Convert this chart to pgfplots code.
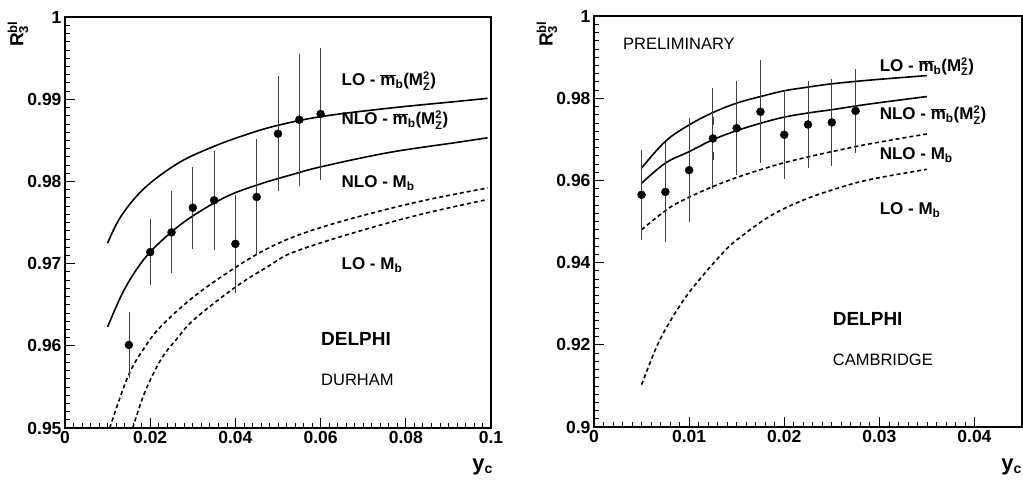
\documentclass[border=0pt]{standalone}
\usepackage{fontspec}
\setmainfont{Liberation Sans}
\usepackage{pgfplots}
\pgfplotsset{compat=1.18}

\newcommand{\fs}[1]{\fontsize{#1}{#1}\selectfont}
\newcommand{\mb}{$\overline{\hbox{m}}$\textsubscript{b}}
\newcommand{\MZ}{M$^{\hbox{\fs{11}2}}_{\hbox{\fs{11}Z}}$}
\newcommand{\Mb}{M\textsubscript{b}}

\pgfplotsset{
  myax/.style={
    scale only axis, anchor=south west,
    axis line style={line width=1.1pt},
    tick align=inside, xtick pos=bottom, ytick pos=left,
    major tick length=10pt, minor tick length=5pt, minor tick num=9,
    tick style={black, line width=0.7pt},
    ticklabel style={font=\bfseries\fs{17.5}},
    scaled ticks=false,
    clip=true,
  },
}
\tikzset{lbl/.style={anchor=base west, font=\bfseries\fs{17}, inner sep=0pt}}

\begin{document}
\begin{tikzpicture}
\useasboundingbox (0,0) rectangle (1023pt,485pt);

% ---------------- left: DURHAM ----------------
\begin{axis}[myax, at={(65pt,57pt)}, width=426pt, height=411pt,
  xmin=0, xmax=0.1, ymin=0.95, ymax=1,
  xtick={0,0.02,0.04,0.06,0.08,0.1},
  xticklabels={0,0.02,0.04,0.06,0.08,0.1},
  ytick={0.95,0.96,0.97,0.98,0.99,1},
  yticklabels={0.95,0.96,0.97,0.98,0.99,1}]

\addplot[black, line width=1.6pt, mark=none, smooth, tension=0.6] coordinates {
 (0.0100,0.9725) (0.0132,0.9758) (0.0187,0.9792) (0.0265,0.9822)
 (0.0342,0.9841) (0.0420,0.9856) (0.0498,0.9868) (0.0603,0.9879)
 (0.0759,0.9889) (0.0914,0.9897) (0.0992,0.9901)};
\addplot[black, line width=1.6pt, mark=none, smooth, tension=0.6] coordinates {
 (0.0100,0.9623) (0.0132,0.9661) (0.0163,0.9689) (0.0198,0.9713)
 (0.0249,0.9738) (0.0303,0.9759) (0.0381,0.9782) (0.0459,0.9797)
 (0.0531,0.9808) (0.0603,0.9818) (0.0759,0.9835) (0.0914,0.9847)
 (0.0992,0.9853)};
\addplot[black, line width=1.6pt, mark=none, smooth, tension=0.6, dash pattern=on 4pt off 3pt] coordinates {
 (0.0105,0.9500) (0.0148,0.9563) (0.0187,0.9598) (0.0226,0.9624)
 (0.0303,0.9660) (0.0399,0.9695) (0.0478,0.9719) (0.0560,0.9737)
 (0.0681,0.9756) (0.0836,0.9776) (0.0992,0.9792)};
\addplot[black, line width=1.6pt, mark=none, smooth, tension=0.6, dash pattern=on 4pt off 3pt] coordinates {
 (0.0159,0.9500) (0.0187,0.9543) (0.0226,0.9584) (0.0265,0.9610)
 (0.0303,0.9632) (0.0399,0.9671) (0.0478,0.9697) (0.0537,0.9714)
 (0.0681,0.9738) (0.0836,0.9760) (0.0992,0.9778)};

\addplot[only marks, mark=*, mark size=4pt, black,
  error bars/.cd, y dir=both, y explicit, error mark=none,
  error bar style={line width=0.8pt, black!75}]
  table[x=x, y=y, y error=e] {
x y e
0.015 0.9601 0.0040
0.020 0.9714 0.0040
0.025 0.9738 0.0050
0.030 0.9768 0.0050
0.035 0.9777 0.0060
0.040 0.9724 0.0060
0.045 0.9781 0.0070
0.050 0.9858 0.0070
0.055 0.9875 0.0080
0.060 0.9882 0.0080
};

\node[lbl] at (axis cs:0.0649,0.99163) {LO - \mb(\MZ)};
\node[lbl] at (axis cs:0.0649,0.98689) {NLO - \mb(\MZ)};
\node[lbl] at (axis cs:0.0649,0.97925) {NLO - \Mb};
\node[lbl] at (axis cs:0.0649,0.96930) {LO - \Mb};
\node[anchor=base west, font=\bfseries\fs{19}, inner sep=0pt] at (axis cs:0.0601,0.9600) {DELPHI};
\node[anchor=base west, font=\fs{16.5}, inner sep=0pt] at (axis cs:0.0601,0.95513) {DURHAM};
\end{axis}

% ---------------- right: CAMBRIDGE ----------------
\begin{axis}[myax, at={(594pt,58pt)}, width=428pt, height=411pt,
  xmin=0, xmax=0.045, ymin=0.9, ymax=1,
  xtick={0,0.01,0.02,0.03,0.04},
  xticklabels={0,0.01,0.02,0.03,0.04},
  ytick={0.9,0.92,0.94,0.96,0.98,1},
  yticklabels={0.9,0.92,0.94,0.96,0.98,1}]

\addplot[black, line width=1.6pt, mark=none, smooth, tension=0.6] coordinates {
 (0.0050,0.9630) (0.0075,0.9695) (0.0100,0.9735) (0.0125,0.9765)
 (0.0150,0.9788) (0.0175,0.9804) (0.0200,0.9818) (0.0225,0.9827)
 (0.0250,0.9835) (0.0290,0.9844) (0.0350,0.9855)};
\addplot[black, line width=1.6pt, mark=none, smooth, tension=0.6] coordinates {
 (0.0050,0.9593) (0.0075,0.9642) (0.0100,0.9670) (0.0125,0.9699)
 (0.0150,0.9721) (0.0175,0.9739) (0.0200,0.9754) (0.0225,0.9764)
 (0.0250,0.9772) (0.0290,0.9786) (0.0350,0.9804)};
\addplot[black, line width=1.6pt, mark=none, smooth, tension=0.6, dash pattern=on 4pt off 3pt] coordinates {
 (0.0050,0.9480) (0.0079,0.9533) (0.0100,0.9559) (0.0125,0.9585)
 (0.0150,0.9607) (0.0175,0.9626) (0.0200,0.9643) (0.0225,0.9657)
 (0.0250,0.9670) (0.0290,0.9689) (0.0350,0.9713)};
\addplot[black, line width=1.6pt, mark=none, smooth, tension=0.6, dash pattern=on 4pt off 3pt] coordinates {
 (0.0050,0.9103) (0.0066,0.9196) (0.0080,0.9257) (0.0097,0.9318)
 (0.0115,0.9370) (0.0136,0.9425) (0.0150,0.9455) (0.0185,0.9513)
 (0.0220,0.9552) (0.0255,0.9580) (0.0290,0.9602) (0.0350,0.9627)};

% total errors
\addplot[only marks, mark=none, black,
  error bars/.cd, y dir=both, y explicit, error mark=none,
  error bar style={line width=0.8pt, black!75}]
  table[x=x, y=y, y error=e] {
x y e
0.0050 0.9565 0.0110
0.0075 0.9572 0.0122
0.0100 0.9625 0.0127
0.0125 0.9702 0.0124
0.0150 0.9727 0.0115
0.0175 0.9767 0.0125
0.0200 0.9711 0.0108
0.0225 0.9736 0.0106
0.0250 0.9741 0.0105
0.0275 0.9769 0.0102
};
% statistical errors
\addplot[only marks, mark=*, mark size=4pt, black,
  error bars/.cd, y dir=both, y explicit, error mark=-,
  error mark options={black!75, mark size=4pt, line width=0.7pt},
  error bar style={line width=0.8pt, black!75}]
  table[x=x, y=y, y error=e] {
x y e
0.0050 0.9565 0.0033
0.0075 0.9572 0.0037
0.0100 0.9625 0.0040
0.0125 0.9702 0.0043
0.0150 0.9727 0.0047
0.0175 0.9767 0.0052
0.0200 0.9711 0.0054
0.0225 0.9736 0.0058
0.0250 0.9741 0.0062
0.0275 0.9769 0.0065
};

\node[lbl] at (axis cs:0.03003,0.98647) {LO - \mb(\MZ)};
\node[lbl] at (axis cs:0.03003,0.97473) {NLO - \mb(\MZ)};
\node[lbl] at (axis cs:0.03003,0.96500) {NLO - \Mb};
\node[lbl] at (axis cs:0.03003,0.95164) {LO - \Mb};
\node[anchor=base west, font=\fs{16.5}, inner sep=0pt] at (axis cs:0.00304,0.99174) {PRELIMINARY};
\node[anchor=base west, font=\bfseries\fs{19}, inner sep=0pt] at (axis cs:0.02509,0.92467) {DELPHI};
\node[anchor=base west, font=\fs{16.5}, inner sep=0pt] at (axis cs:0.02509,0.91495) {CAMBRIDGE};
\end{axis}

% axis titles
\node[rotate=90, anchor=base west, inner sep=0pt, font=\bfseries\fs{19}] at (23.5pt,438pt)
  {R$_{\hbox{\fs{13}3}}^{\hbox{\fs{13}bl}}$};
\node[rotate=90, anchor=base west, inner sep=0pt, font=\bfseries\fs{19}] at (552.5pt,438pt)
  {R$_{\hbox{\fs{13}3}}^{\hbox{\fs{13}bl}}$};
\node[anchor=base east, inner sep=0pt, font=\bfseries\fs{22}] at (493pt,15pt)
  {y$_{\hbox{\fs{14}c}}$};
\node[anchor=base east, inner sep=0pt, font=\bfseries\fs{22}] at (1022pt,15pt)
  {y$_{\hbox{\fs{14}c}}$};
\end{tikzpicture}
\end{document}
